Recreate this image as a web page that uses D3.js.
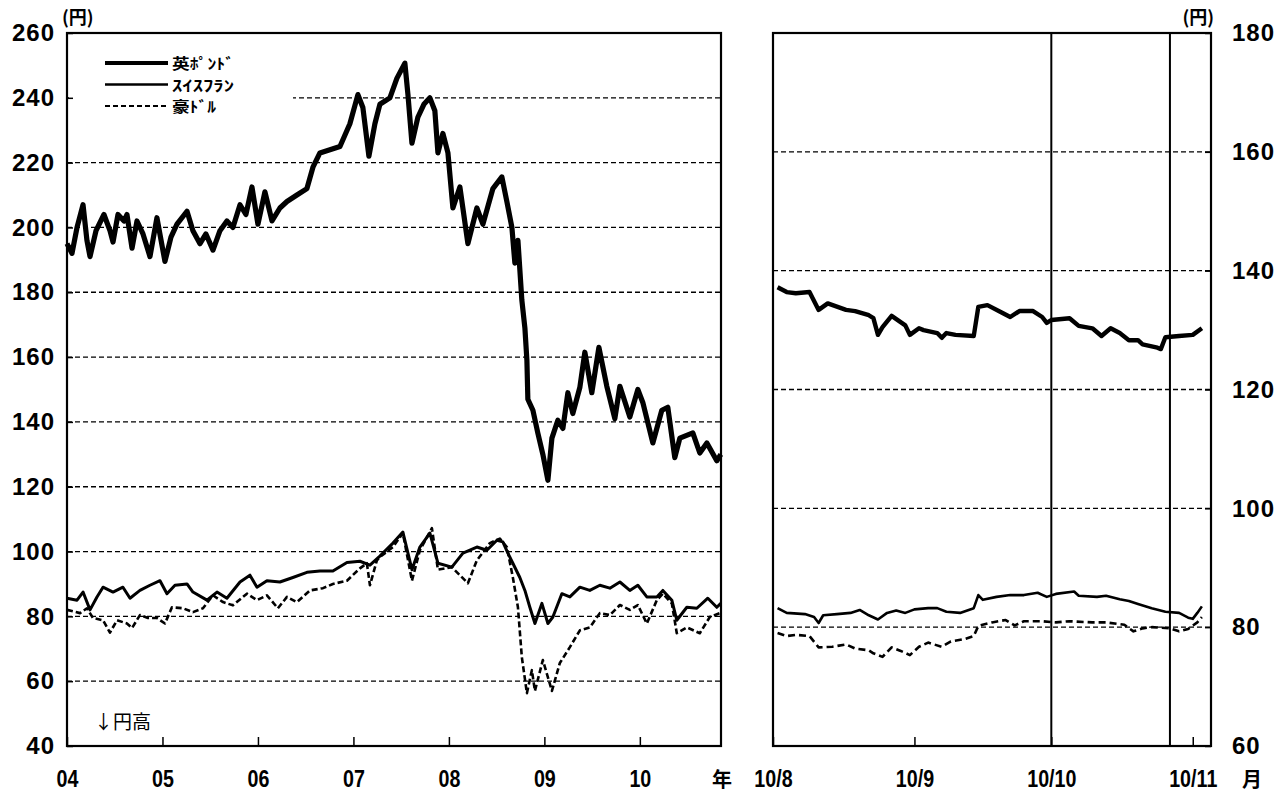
<!DOCTYPE html>
<html><head><meta charset="utf-8">
<script src="https://cdn.jsdelivr.net/npm/d3@7/dist/d3.min.js"></script>
<style>
body{margin:0;background:#fff}
.num{font-family:"Liberation Sans",Arial,sans-serif;font-weight:bold}
.nar{font-family:"Liberation Sans",Arial,sans-serif;font-weight:bold}
.jp{font-family:"Noto Sans CJK JP",sans-serif}
</style>
</head><body>
<svg id="c" width="1287" height="800"></svg>
<script>
// ---------- data ----------
const seriesNames = ["英ﾎﾟﾝﾄﾞ", "ｽｲｽﾌﾗﾝ", "豪ﾄﾞﾙ"];
const yearLabels = ["04","05","06","07","08","09","10"];
const yearTicks = [2004,2005,2006,2007,2008,2009,2010];
const monthLabels = ["10/8","10/9","10/10","10/11"];
const monthTicks = ["2010-08-01","2010-09-01","2010-10-01","2010-11-01"];
const leftYTicks = [40,60,80,100,120,140,160,180,200,220,240,260];
const rightYTicks = [60,80,100,120,140,160,180];
const markerDates = ["2010-10-01","2010-10-27"];

// left panel (decimal year)
const gbpLT = [2004.000,2004.052,2004.105,2004.168,2004.209,2004.241,2004.304,2004.387,2004.450,2004.482,2004.534,2004.597,2004.628,2004.681,2004.733,2004.796,2004.869,2004.942,2005.026,2005.089,2005.152,2005.257,2005.319,2005.393,2005.455,2005.529,2005.602,2005.675,2005.738,2005.812,2005.874,2005.937,2006.000,2006.073,2006.147,2006.230,2006.304,2006.408,2006.513,2006.576,2006.649,2006.754,2006.859,2006.963,2007.047,2007.099,2007.162,2007.225,2007.277,2007.382,2007.455,2007.539,2007.571,2007.613,2007.675,2007.738,2007.801,2007.853,2007.885,2007.937,2007.990,2008.042,2008.115,2008.199,2008.293,2008.356,2008.461,2008.555,2008.607,2008.660,2008.691,2008.723,2008.764,2008.796,2008.817,2008.827,2008.880,2008.932,2008.984,2009.037,2009.079,2009.141,2009.194,2009.246,2009.298,2009.372,2009.424,2009.497,2009.571,2009.654,2009.738,2009.791,2009.895,2009.979,2010.031,2010.136,2010.230,2010.293,2010.366,2010.419,2010.555,2010.628,2010.702,2010.806,2010.848];
const gbpLV = [195,192,200,207,196,191,199,204,199,195.5,204,202,204,193.6,202,198,191,203,189.5,197,201,205,199,195,198,193,199,202,200,207,204,212.5,201,211,202,206,208,210,212,218.6,223,224,225,232,241,237,222,232,238,240,246,250.7,241,226,234,238,240,236,223,229,223,206,212.5,195,206,201,212,215.6,208,200,189,196,177.6,169,159,147,143.6,136.5,130,122,135,140.5,138,149,142.6,150.7,161.5,149,163,151,141,151,141.5,150,146,133.5,143.6,144.5,129,135,136.6,130.4,133.5,128,130];

const chfLT = [2004.000,2004.105,2004.168,2004.241,2004.314,2004.377,2004.482,2004.586,2004.660,2004.764,2004.869,2004.974,2005.047,2005.131,2005.257,2005.319,2005.466,2005.571,2005.675,2005.812,2005.916,2005.990,2006.094,2006.230,2006.366,2006.513,2006.649,2006.785,2006.932,2007.068,2007.173,2007.277,2007.414,2007.518,2007.613,2007.696,2007.801,2007.885,2008.031,2008.147,2008.293,2008.398,2008.503,2008.565,2008.618,2008.670,2008.743,2008.796,2008.848,2008.901,2008.974,2009.037,2009.089,2009.183,2009.267,2009.372,2009.476,2009.581,2009.686,2009.791,2009.895,2009.979,2010.073,2010.178,2010.241,2010.335,2010.387,2010.492,2010.597,2010.712,2010.806,2010.848];
const chfLV = [85.6,85,87.5,82,86,89,87.5,89,85.6,88,89.6,91,87,89.6,90,87.5,85,87.5,85.6,90.6,92.7,89,91,90.6,92,93.6,94,94,96.6,97,95.8,98.6,102.6,106,94.4,101.4,105.7,96.4,95.2,99.5,101.4,100.4,103.5,103,99.5,96.4,92,88,82.8,77.8,84,77.8,79.8,87,86,89,88,89.6,88.7,90.6,88,89.6,86,86,88,85,78.8,82.8,82.5,85.6,82.8,84];

const audLT = [2004.000,2004.136,2004.209,2004.272,2004.377,2004.450,2004.524,2004.628,2004.681,2004.764,2004.848,2004.942,2005.026,2005.099,2005.215,2005.319,2005.424,2005.529,2005.634,2005.738,2005.885,2005.990,2006.094,2006.209,2006.304,2006.408,2006.545,2006.681,2006.785,2006.932,2007.068,2007.141,2007.173,2007.246,2007.277,2007.414,2007.518,2007.613,2007.696,2007.822,2007.885,2008.031,2008.199,2008.293,2008.429,2008.534,2008.607,2008.670,2008.723,2008.764,2008.817,2008.869,2008.901,2008.984,2009.079,2009.162,2009.267,2009.372,2009.476,2009.581,2009.686,2009.791,2009.895,2009.979,2010.073,2010.178,2010.241,2010.335,2010.387,2010.492,2010.628,2010.733,2010.838];
const audLV = [82,81,82.5,79.5,78.8,75,78.8,77.8,76.4,80.4,79.5,79.5,77.8,82.8,82.5,81.3,82.5,86.5,84.4,83.4,87,85,86.5,82.5,86,84.4,88,88.7,90,91,94.8,96.4,89.6,97.3,98.3,101.4,105.7,91,100.4,107.2,94.4,95.2,90.2,97.3,102.6,104,101.4,92,82.8,67.4,56.3,63.4,57,66.5,57,65.6,70.5,75.7,76.6,81,80.4,83.5,82,83.5,77.8,85,87,84,74.8,76.6,74.8,79.8,81];

// right panel (dates, 2010)
const gbpRD = ["08-02","08-04","08-06","08-09","08-11","08-13","08-17","08-19","08-22","08-23","08-24","08-25","08-27","08-30","08-31","09-02","09-03","09-06","09-07","09-08","09-10","09-14","09-15","09-17","09-20","09-22","09-24","09-27","09-29","09-30","10-01","10-05","10-07","10-10","10-12","10-14","10-16","10-18","10-20","10-21","10-24","10-25","10-26","10-29","11-01","11-03"];
const gbpRV = [137.2,136.4,136.2,136.4,133.4,134.5,133.4,133.2,132.5,132,129.2,130.5,132.4,130.8,129.2,130.3,130,129.5,128.7,129.5,129.2,129,133.9,134.2,133,132.2,133.2,133.2,132.2,131.2,131.7,132,130.7,130.3,129,130.3,129.5,128.3,128.3,127.6,127.1,126.8,128.8,129,129.2,130.3];
const chfRD = ["08-02","08-04","08-08","08-10","08-11","08-12","08-15","08-18","08-20","08-22","08-24","08-26","08-28","08-30","09-01","09-04","09-06","09-08","09-11","09-14","09-15","09-16","09-19","09-22","09-25","09-28","09-30","10-02","10-06","10-07","10-11","10-13","10-16","10-18","10-20","10-23","10-26","10-29","10-31","11-01","11-02","11-03"];
const chfRV = [83.2,82.4,82.2,81.7,80.7,82,82.2,82.4,82.9,82,81.3,82.4,82.8,82.4,83,83.2,83.2,82.6,82.4,83.2,85.4,84.6,85.1,85.4,85.4,85.8,85.1,85.6,86,85.3,85.1,85.3,84.7,84.4,83.9,83.2,82.6,82.4,81.6,81.4,82.4,83.5];
const audRD = ["08-02","08-04","08-06","08-09","08-11","08-14","08-17","08-19","08-22","08-23","08-25","08-27","08-29","08-31","09-02","09-04","09-07","09-09","09-12","09-14","09-15","09-18","09-21","09-23","09-25","09-29","10-02","10-05","10-10","10-13","10-17","10-19","10-21","10-23","10-27","10-29","10-31","11-02","11-03"];
const audRV = [79,78.5,78.7,78.5,76.6,76.7,77.1,76.4,76.1,75.6,75,76.6,76,75.3,76.7,77.4,76.7,77.6,78,78.5,80.2,80.8,81.2,80.3,81,81,80.8,81,80.8,80.8,80.4,79.3,79.8,80,79.8,79.3,79.7,80.8,81.7];

// ---------- drawing ----------
const svg = d3.select("#c");
const parse = d3.timeParse("%Y-%m-%d");
const L = {x0:67, x1:721, y0:33, y1:746};
const R = {x0:773, x1:1211, y0:33, y1:746};

const xL = d3.scaleLinear().domain([2004, 2010.85]).range([L.x0, L.x1]);
const yL = d3.scaleLinear().domain([40, 260]).range([L.y1, L.y0]);
const xR = d3.scaleTime().domain([parse("2010-08-01"), parse("2010-11-05")]).range([R.x0, R.x1]);
const yR = d3.scaleLinear().domain([60, 180]).range([R.y1, R.y0]);

const styles = [
  {w:5.2, dash:null},
  {w:3, dash:null},
  {w:2.6, dash:"6,3"}
];

// gridlines left
svg.append("g").selectAll("line").data(leftYTicks.filter(v => v > 40 && v < 260)).join("line")
  .attr("x1", L.x0).attr("x2", L.x1).attr("y1", d => yL(d)).attr("y2", d => yL(d))
  .attr("stroke", "#000").attr("stroke-width", 1.3).attr("stroke-dasharray", "5,3");
// gridlines right
svg.append("g").selectAll("line").data(rightYTicks.filter(v => v > 60 && v < 180)).join("line")
  .attr("x1", R.x0).attr("x2", R.x1).attr("y1", d => yR(d)).attr("y2", d => yR(d))
  .attr("stroke", "#000").attr("stroke-width", 1.3).attr("stroke-dasharray", "5,3");

// markers right
svg.append("g").selectAll("line").data(markerDates).join("line")
  .attr("x1", d => xR(parse(d))).attr("x2", d => xR(parse(d)))
  .attr("y1", R.y0).attr("y2", R.y1).attr("stroke", "#000").attr("stroke-width", 2);

// lines left
const lineL = d3.line().x(d => xL(d[0])).y(d => yL(d[1]));
const leftSeries = [d3.zip(gbpLT, gbpLV), d3.zip(chfLT, chfLV), d3.zip(audLT, audLV)];
leftSeries.forEach((s, i) => {
  svg.append("path").datum(s).attr("d", lineL).attr("fill", "none")
    .attr("stroke", "#000").attr("stroke-width", styles[i].w)
    .attr("stroke-linejoin", "round")
    .attr("stroke-dasharray", styles[i].dash);
});

// lines right
const lineR = d3.line().x(d => xR(parse("2010-" + d[0]))).y(d => yR(d[1]));
const rightSeries = [d3.zip(gbpRD, gbpRV), d3.zip(chfRD, chfRV), d3.zip(audRD, audRV)];
const rStyles = [{w:4.4, dash:null},{w:2.6, dash:null},{w:2.6, dash:"7,4"}];
rightSeries.forEach((s, i) => {
  svg.append("path").datum(s).attr("d", lineR).attr("fill", "none")
    .attr("stroke", "#000").attr("stroke-width", rStyles[i].w)
    .attr("stroke-linejoin", "round")
    .attr("stroke-dasharray", rStyles[i].dash);
});

// legend (white box hides gridlines)
const lg = svg.append("g");
lg.append("rect").attr("x", L.x0 + 2).attr("y", L.y0 + 2).attr("width", 224).attr("height", 116).attr("fill", "#fff");
const lgY = [63, 84.5, 106];
seriesNames.forEach((n, i) => {
  lg.append("line").attr("x1", 105).attr("x2", 168).attr("y1", lgY[i]).attr("y2", lgY[i])
    .attr("stroke", "#000").attr("stroke-width", i === 0 ? 3.8 : (i === 1 ? 2.6 : 2.2))
    .attr("stroke-dasharray", i === 2 ? "5,3" : null);
  lg.append("text").attr("class", "jp").attr("x", 172).attr("y", lgY[i] + 6)
    .attr("font-size", 15).attr("font-weight", "bold").attr("textLength", i === 2 ? 44 : 62)
    .attr("lengthAdjust", "spacingAndGlyphs").text(n);
});

// frames
[L, R].forEach(p => {
  svg.append("rect").attr("x", p.x0).attr("y", p.y0).attr("width", p.x1 - p.x0).attr("height", p.y1 - p.y0)
    .attr("fill", "none").attr("stroke", "#000").attr("stroke-width", 2.2);
});

// axes left
const axL = svg.append("g").attr("transform", `translate(${L.x0},0)`)
  .call(d3.axisLeft(yL).tickValues(leftYTicks).tickSize(-6).tickPadding(12).tickFormat(d3.format("d")));
axL.select(".domain").remove();
axL.selectAll("text").attr("class", "num").attr("font-size", 24).attr("letter-spacing", 1).attr("fill", "#000");
axL.selectAll("line").attr("stroke-width", 1.5);

const axR = svg.append("g").attr("transform", `translate(${R.x1},0)`)
  .call(d3.axisRight(yR).tickValues(rightYTicks).tickSize(-6).tickPadding(21).tickFormat(d3.format("d")));
axR.select(".domain").remove();
axR.selectAll("text").attr("class", "num").attr("font-size", 24).attr("letter-spacing", 1).attr("fill", "#000");
axR.selectAll("line").attr("stroke-width", 1.5);

const axXL = svg.append("g").attr("transform", `translate(0,${L.y1})`)
  .call(d3.axisBottom(xL).tickValues(yearTicks).tickSize(-9).tickPadding(24).tickFormat((d, i) => yearLabels[i]));
axXL.select(".domain").remove();
axXL.selectAll("text").attr("class", "nar").attr("font-size", 24).attr("transform", "scale(0.82,1)").attr("fill", "#000");
axXL.selectAll("line").attr("stroke-width", 1.5);

const axXR = svg.append("g").attr("transform", `translate(0,${R.y1})`)
  .call(d3.axisBottom(xR).tickValues(monthTicks.map(parse)).tickSize(-9).tickPadding(24).tickFormat((d, i) => monthLabels[i]));
axXR.select(".domain").remove();
axXR.selectAll("text").attr("class", "nar").attr("font-size", 24).attr("transform", "scale(0.82,1)").attr("fill", "#000");
axXR.selectAll("line").attr("stroke-width", 1.5);

// unit labels & notes
svg.append("text").attr("class", "jp").attr("x", 62).attr("y", 24).attr("font-size", 18).attr("font-weight", "bold").text("(円)");
svg.append("text").attr("class", "jp").attr("x", 1214).attr("y", 24).attr("text-anchor", "end").attr("font-size", 18).attr("font-weight", "bold").text("(円)");
svg.append("text").attr("class", "jp").attr("x", 722).attr("y", 787).attr("text-anchor", "middle").attr("font-size", 20).attr("font-weight", "bold").text("年");
svg.append("text").attr("class", "jp").attr("x", 1252).attr("y", 787).attr("text-anchor", "middle").attr("font-size", 20).attr("font-weight", "bold").text("月");
svg.append("text").attr("class", "jp").attr("x", 94).attr("y", 729).attr("font-size", 19).text("↓円高");
</script>
</body></html>
